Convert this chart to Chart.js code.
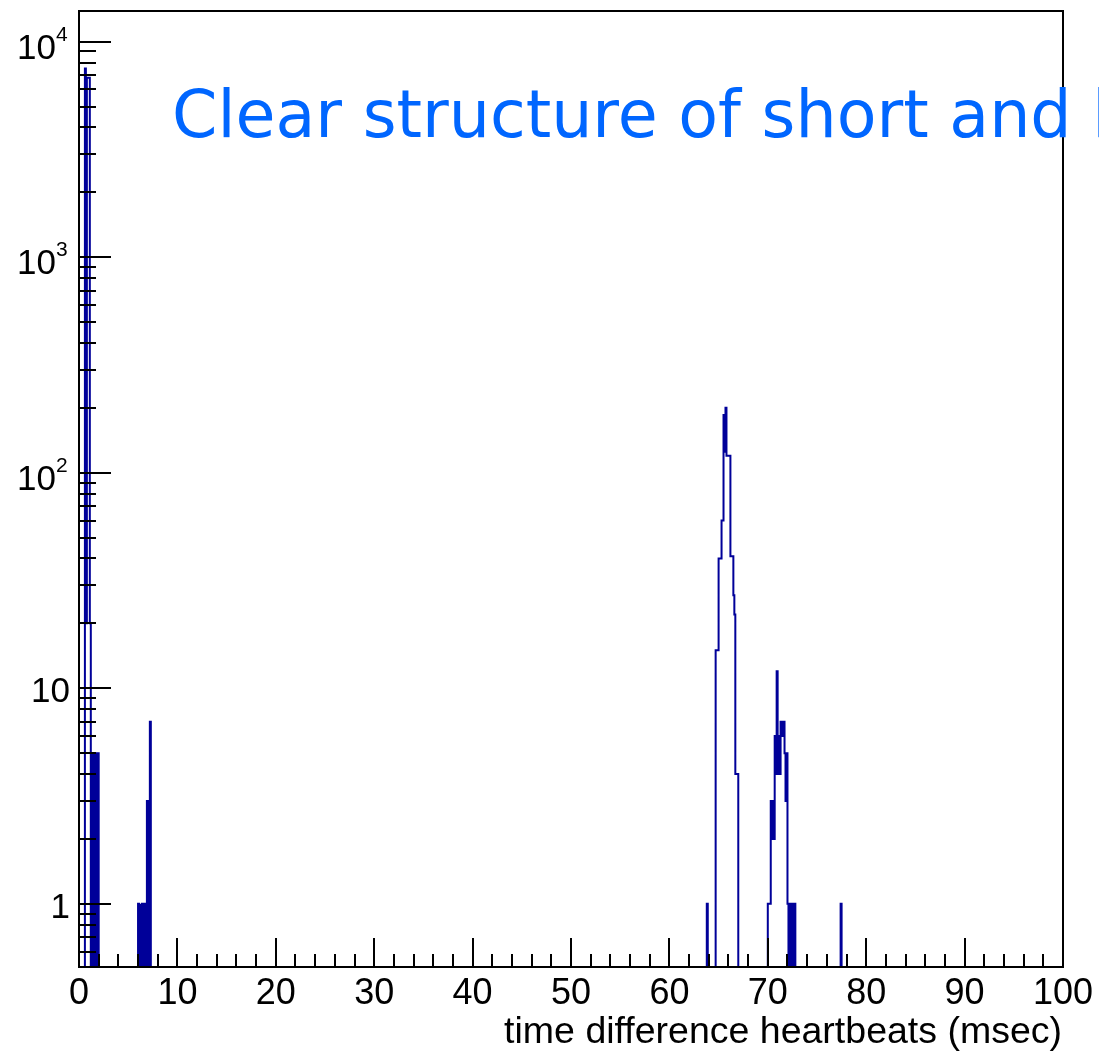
<!DOCTYPE html>
<html><head><meta charset="utf-8">
<script src="https://cdn.jsdelivr.net/npm/chart.js@4/dist/chart.umd.min.js"></script>
<style>html,body{margin:0;padding:0;background:#fff;overflow:hidden}#wrap{position:relative;width:1099px;height:1051px}</style>
</head><body><div id="wrap"><canvas id="c" width="1099" height="1051"></canvas></div>
<script>
// ---- data (histogram, 0.1 msec bins; bins not listed are empty) ----
const BIN_WIDTH = 0.1;
const binLow = [
  0.6, 0.7, 0.8, 0.9, 1.0, 1.1, 1.3, 1.5, 1.6, 1.8, 1.9,
  6.0, 6.2, 6.4, 6.5, 6.7, 6.9, 7.1, 7.2,
  63.8,
  64.7, 64.8, 64.9, 65.0, 65.1, 65.2, 65.3, 65.4, 65.5, 65.6, 65.7, 65.8,
  65.9, 66.0, 66.1, 66.2, 66.3, 66.4, 66.5, 66.6, 66.7, 66.8, 66.9,
  70.0, 70.1, 70.2, 70.3, 70.4, 70.5, 70.6, 70.7, 70.8, 70.9, 71.0, 71.1,
  71.2, 71.3, 71.4, 71.5, 71.6, 71.7, 71.8, 71.9, 72.0, 72.2, 72.3, 72.5, 72.7,
  77.4
];
const counts = [
  7500, 20, 6800, 6800, 6800, 20, 5, 5, 5, 5, 5,
  1, 1, 1, 1, 1, 3, 3, 7,
  1,
  15, 15, 15, 40, 40, 40, 60, 60, 185, 125, 200, 120,
  120, 120, 120, 41, 41, 41, 27, 22, 4, 4, 4,
  1, 1, 1, 3, 2, 3, 2, 6, 4, 12, 4, 6,
  4, 7, 6, 7, 7, 5, 3, 5, 1, 1, 1, 1, 1,
  1
];
const xRange = [0, 100];
const yRange = [0.509, 13870];
const xTickValues = [0, 10, 20, 30, 40, 50, 60, 70, 80, 90, 100];
const xTickLabels = ["0", "10", "20", "30", "40", "50", "60", "70", "80", "90", "100"];
const yTickValues = [1, 10, 100, 1000, 10000];
const yTickBase = ["1", "10", "10", "10", "10"];
const yTickExp = ["", "", "2", "3", "4"];
const xTitle = "time difference heartbeats (msec)";
const noteText = "Clear structure of short and l";

// ---- build histogram outline from the bins ----
const NBINS = Math.round((xRange[1] - xRange[0]) / BIN_WIDTH);
const full = new Array(NBINS).fill(0);
binLow.forEach((lo, i) => { full[Math.round(lo / BIN_WIDTH)] = counts[i]; });
const FLOOR = 0.05; // empty bins drop below the visible axis
const points = [];
for (let i = 0; i < NBINS; i++) {
  const v = full[i] > 0 ? full[i] : FLOOR;
  points.push({x: i * BIN_WIDTH, y: v});
  points.push({x: (i + 1) * BIN_WIDTH, y: v});
}

const AXFONT = '"Liberation Sans", Arial, Helvetica, sans-serif';

const axesPlugin = {
  id: 'rootAxes',
  afterDatasetsDraw(chart) {
    const ctx = chart.ctx, a = chart.chartArea;
    const xs = chart.scales.x, ys = chart.scales.y;
    ctx.save();
    ctx.strokeStyle = '#000';
    ctx.lineWidth = 2;
    ctx.strokeRect(a.left, a.top, a.right - a.left, a.bottom - a.top);
    ctx.beginPath();
    for (let v = xRange[0]; v <= xRange[1]; v += 2) {
      const x = Math.round(xs.getPixelForValue(v));
      const len = (v % 10 === 0) ? 29 : 13;
      ctx.moveTo(x, a.bottom); ctx.lineTo(x, a.bottom - len);
    }
    for (let d = -1; d <= 4; d++) {
      for (let m = 1; m <= 9; m++) {
        const v = m * Math.pow(10, d);
        if (v < yRange[0] || v > yRange[1]) continue;
        const y = Math.round(ys.getPixelForValue(v));
        const len = (m === 1) ? 32 : 17;
        ctx.moveTo(a.left, y); ctx.lineTo(a.left + len, y);
      }
    }
    ctx.stroke();

    ctx.fillStyle = '#000';
    ctx.font = '36px ' + AXFONT;
    ctx.textAlign = 'center';
    ctx.textBaseline = 'alphabetic';
    xTickValues.forEach((v, i) => {
      ctx.fillText(xTickLabels[i], xs.getPixelForValue(v), a.bottom + 37);
    });
    yTickValues.forEach((v, i) => {
      const y = ys.getPixelForValue(v);
      if (yTickExp[i] === '') {
        ctx.font = '35px ' + AXFONT;
        ctx.textAlign = 'right';
        ctx.fillText(yTickBase[i], 70, y + 14);
      } else {
        ctx.font = '21px ' + AXFONT;
        ctx.textAlign = 'left';
        ctx.fillText(yTickExp[i], 56, y - 1);
        ctx.font = '35px ' + AXFONT;
        ctx.textAlign = 'right';
        ctx.fillText(yTickBase[i], 56, y + 17);
      }
    });
    ctx.font = '37.5px ' + AXFONT;
    ctx.textAlign = 'right';
    ctx.fillText(xTitle, 1062, 1043);
    ctx.restore();
  },
  afterDraw(chart) {
    const ctx = chart.ctx;
    ctx.save();
    ctx.fillStyle = '#0066ff';
    ctx.font = '65px "DejaVu Sans"';
    ctx.textAlign = 'left';
    ctx.textBaseline = 'alphabetic';
    ctx.fillText(noteText, 172, 137);
    ctx.restore();
  }
};

new Chart(document.getElementById('c').getContext('2d'), {
  type: 'line',
  data: {datasets: [{
    data: points,
    borderColor: '#000099',
    borderWidth: 2,
    pointRadius: 0,
    fill: false,
    tension: 0,
    clip: 0
  }]},
  options: {
    responsive: false,
    animation: false,
    events: [],
    devicePixelRatio: 1,
    layout: {padding: {left: 79, top: 11, right: 36, bottom: 84}},
    plugins: {legend: {display: false}, tooltip: {enabled: false}},
    scales: {
      x: {type: 'linear', min: xRange[0], max: xRange[1], display: false},
      y: {type: 'logarithmic', min: yRange[0], max: yRange[1], display: false}
    }
  },
  plugins: [axesPlugin]
});
</script></body></html>
